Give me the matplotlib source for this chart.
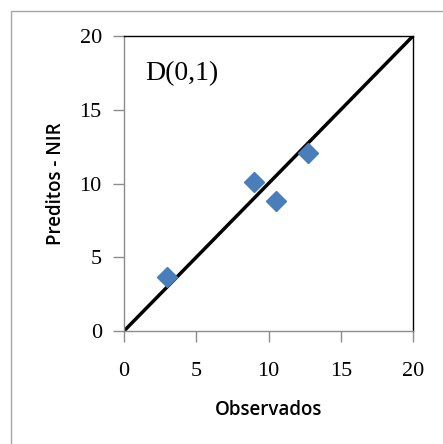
import matplotlib.pyplot as plt
from matplotlib.patches import Rectangle

observados = [2.95, 9.0, 10.5, 12.75]
preditos = [3.65, 10.1, 8.8, 12.05]
ideal_x = [0, 20]
ideal_y = [0, 20]
ticks = [0, 5, 10, 15, 20]

W, H = 443, 444
fig = plt.figure(figsize=(W / 100, H / 100), dpi=100)

# outer chart frame (cut off at right/bottom)
fig.patches.append(Rectangle((11 / W, -0.1), 1.2, 1 - 11 / H + 0.1, transform=fig.transFigure,
                             fill=False, edgecolor="#a6a6a6", linewidth=1.0))

ax = fig.add_axes([124 / W, 1 - 331 / H, 289 / W, 295 / H])
ax.plot(ideal_x, ideal_y, color="black", linewidth=2.5, solid_capstyle="butt")
ax.plot(observados, preditos, linestyle="none", marker="D", markersize=10,
        color="#4a7ebb", markeredgecolor="#4a7ebb")

ax.set_xlim(0, 20)
ax.set_ylim(0, 20)
ax.set_xticks(ticks)
ax.set_yticks(ticks)
ax.tick_params(direction="out", length=8, width=1, color="#8c8c8c")
ax.tick_params(axis="x", pad=14)
ax.tick_params(axis="y", pad=8)
for lab in ax.get_xticklabels() + ax.get_yticklabels():
    lab.set_fontfamily("Liberation Serif")
    lab.set_fontsize(16)

ax.spines["left"].set_color("#8c8c8c")
ax.spines["bottom"].set_color("#8c8c8c")
ax.spines["top"].set_color("black")
ax.spines["right"].set_color("black")
for s in ax.spines.values():
    s.set_linewidth(1.0)

ax.text(1.45, 17.0, "D(0,1)", fontfamily="Liberation Serif", fontsize=20)
ax.set_xlabel("Observados", fontfamily="Open Sans", fontweight="semibold", fontsize=13.5, labelpad=14)
ax.set_ylabel("Preditos - NIR", fontfamily="Open Sans", fontweight="semibold", fontsize=13.5, labelpad=10)

fig.savefig("out.png", dpi=100)
